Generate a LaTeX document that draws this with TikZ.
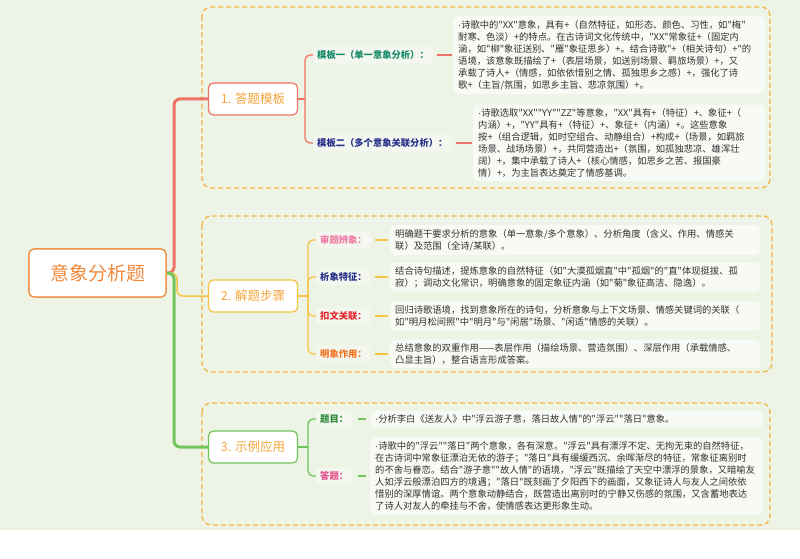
\documentclass[tikz,border=0pt]{standalone}
\usepackage{fontspec}
\setmainfont{Noto Sans CJK SC}[Ligatures=TeXOff]
\newfontfamily\latinf{Liberation Sans}
\newcommand{\dt}{{\latinf ·}}

\definecolor{pagebg}{HTML}{EDF4E6}
\definecolor{rootc}{HTML}{F0893C}
\definecolor{topictxt}{HTML}{F5A53C}
\definecolor{redc}{HTML}{EE7366}
\definecolor{yelc}{HTML}{F6C445}
\definecolor{grnc}{HTML}{70C45C}
\definecolor{framec}{HTML}{F4B447}
\definecolor{parabg}{HTML}{F8FAF5}
\definecolor{tagbg}{HTML}{F3F7EF}
\definecolor{txt}{HTML}{333333}
\definecolor{tealc}{HTML}{178A69}
\definecolor{navyc}{HTML}{27308A}
\definecolor{pinkc}{HTML}{F07BA6}
\definecolor{crimc}{HTML}{E3262E}
\definecolor{orgc}{HTML}{F27420}
\definecolor{dgrnc}{HTML}{2C8A36}
\definecolor{magc}{HTML}{E54F8B}

\tikzset{
  root/.style={draw=rootc, fill=white, rounded corners=5, line width=1.2,
    minimum width=137, minimum height=48, text=rootc,
    font=\fontsize{19}{19}\selectfont},
  topic/.style={fill=white, rounded corners=5, line width=1.2,
    minimum width=89, minimum height=32, text=topictxt,
    font=\fontsize{12.5}{12.5}\selectfont},
  tag/.style={fill=tagbg, rounded corners=3, inner xsep=4, inner ysep=4,
    anchor=west, font=\bfseries\fontsize{9.3}{11}\selectfont},
  para/.style={fill=parabg, rounded corners=5, inner xsep=5, inner ysep=4,
    anchor=west, align=left, text=txt, font=\fontsize{9.3}{12}\selectfont},
  frame/.style={draw=framec, dash pattern=on 5pt off 3pt, line width=1.3,
    rounded corners=9},
  twig/.style={line width=1.3, rounded corners=5},
}

\begin{document}
\begin{tikzpicture}[x=1pt,y=-1pt]
\useasboundingbox (0,0) rectangle (800,559);
\fill[white] (0,0) rectangle (800,559);
\fill[pagebg] (0,0) rectangle (800,530);

% dashed frames
\draw[frame] (202,7) rectangle (770,188);
\draw[frame] (202,216) rectangle (772,372);
\draw[frame] (202,403) rectangle (770,525);

% root and main topics
\node[root] (root) at (97.5,273) {意象分析题};
\node[topic, draw=redc] (tplt) at (253,99) {1. 答题模板};
\node[topic, draw=yelc] (steps) at (253,296) {2. 解题步骤};
\node[topic, draw=grnc] (demo) at (253,447) {3. 示例应用};

\draw[redc, line width=3, rounded corners=6] (root.east) -- (174,273) |- (tplt.west);
\draw[yelc, line width=1.5, rounded corners=6] (root.east) -- (177,273) |- (steps.west);
\draw[grnc, line width=3, rounded corners=6] (root.east) -- (174,273) |- (demo.west);
\node[root] at (root) {意象分析题};

% 1. templates
\node[tag, text=tealc] (single) at (313,55) {模板一（单一意象分析）：};
\node[tag, text=navyc] (multi) at (313,143) {模板二（多个意象关联分析）：};
\node[para, text width=302] (singletxt) at (453,55)
  {\dt 诗歌中的"XX"意象，具有+（自然特征，如形态、颜色、习性，如"梅"\\
   耐寒、色淡）+的特点。在古诗词文化传统中，"XX"常象征+（固定内\\
   涵，如"柳"象征送别、"雁"象征思乡）+。结合诗歌"+（相关诗句）+"的\\
   语境，该意象既描绘了+（表层场景，如送别场景、羁旅场景）+，又\\
   承载了诗人+（情感，如依依惜别之情、孤独思乡之感）+，强化了诗\\
   歌+（主旨/氛围，如思乡主旨、悲凉氛围）+。};
\node[para, text width=282] (multitxt) at (473,143)
  {\dt 诗歌选取"XX""YY""ZZ"等意象，"XX"具有+（特征）+、象征+（\\
   内涵）+，"YY"具有+（特征）+、象征+（内涵）+。这些意象\\
   按+（组合逻辑，如时空组合、动静组合）+构成+（场景，如羁旅\\
   场景、战场场景）+，共同营造出+（氛围，如孤独悲凉、雄浑壮\\
   阔）+，集中承载了诗人+（核心情感，如思乡之苦、报国豪\\
   情）+，为主旨表达奠定了情感基调。};
\coordinate (ja) at (305,99);
\draw[redc, twig] (tplt.east) -- (ja);
\draw[redc, twig] (ja) |- (single.west);
\draw[redc, twig] (ja) |- (multi.west);
\draw[redc, twig, shorten <=4pt, shorten >=1pt] (single.east) -- (singletxt.west);
\draw[redc, twig, shorten <=4pt, shorten >=1pt] (multi.east) -- (multitxt.west);

% 2. steps
\node[tag, text=pinkc] (read) at (316,240) {审题辨象：};
\node[tag, text=navyc] (trait) at (316,277) {析象特征：};
\node[tag, text=crimc] (link) at (316,316) {扣文关联：};
\node[tag, text=orgc] (role) at (316,354) {明象作用：};
\node[para, text width=360] (readtxt) at (390,240)
  {明确题干要求分析的意象（单一意象/多个意象）、分析角度（含义、作用、情感关\\
   联）及范围（全诗/某联）。};
\node[para, text width=360] (traittxt) at (390,277)
  {结合诗句描述，提炼意象的自然特征（如"大漠孤烟直"中"孤烟"的"直"体现挺拔、孤\\
   寂）；调动文化常识，明确意象的固定象征内涵（如"菊"象征高洁、隐逸）。};
\node[para, text width=360] (linktxt) at (390,316)
  {回归诗歌语境，找到意象所在的诗句，分析意象与上下文场景、情感关键词的关联（\\
   如"明月松间照"中"明月"与"闲居"场景、"闲适"情感的关联）。};
\node[para, text width=360] (roletxt) at (390,354)
  {总结意象的双重作用——表层作用（描绘场景、营造氛围）、深层作用（承载情感、\\
   凸显主旨），整合语言形成答案。};
\coordinate (jb) at (308,296);
\draw[yelc, twig] (steps.east) -- (jb);
\foreach \t in {read,trait,link,role}
  \draw[yelc, twig] (jb) |- (\t.west);
\foreach \t in {read,trait,link,role}
  \draw[yelc, twig, shorten <=4pt, shorten >=2pt] (\t.east) -- (\t txt.west);

% 3. example
\node[tag, text=dgrnc] (quest) at (316,419) {题目：};
\node[tag, text=magc] (answ) at (316,476) {答题：};
\node[para, text width=383] (questtxt) at (370,419)
  {\dt 分析李白《送友人》中"浮云游子意，落日故人情"的"浮云""落日"意象。};
\node[para, text width=383] (answtxt) at (370,476)
  {\dt 诗歌中的"浮云""落日"两个意象，各有深意。"浮云"具有漂浮不定、无拘无束的自然特征，\\
   在古诗词中常象征漂泊无依的游子；"落日"具有缓缓西沉、余晖渐尽的特征，常象征离别时\\
   的不舍与眷恋。结合"游子意""故人情"的语境，"浮云"既描绘了天空中漂浮的景象，又暗喻友\\
   人如浮云般漂泊四方的境遇；"落日"既刻画了夕阳西下的画面，又象征诗人与友人之间依依\\
   惜别的深厚情谊。两个意象动静结合，既营造出离别时的宁静又伤感的氛围，又含蓄地表达\\
   了诗人对友人的牵挂与不舍，使情感表达更形象生动。};
\coordinate (jc) at (308,447);
\draw[grnc, twig] (demo.east) -- (jc);
\draw[grnc, twig] (jc) |- (quest.west);
\draw[grnc, twig] (jc) |- (answ.west);
\draw[grnc, twig, shorten <=6pt, shorten >=4pt] (quest.east) -- (questtxt.west);
\draw[grnc, twig, shorten <=6pt, shorten >=4pt] (answ.east) -- (answtxt.west);
\end{tikzpicture}
\end{document}
